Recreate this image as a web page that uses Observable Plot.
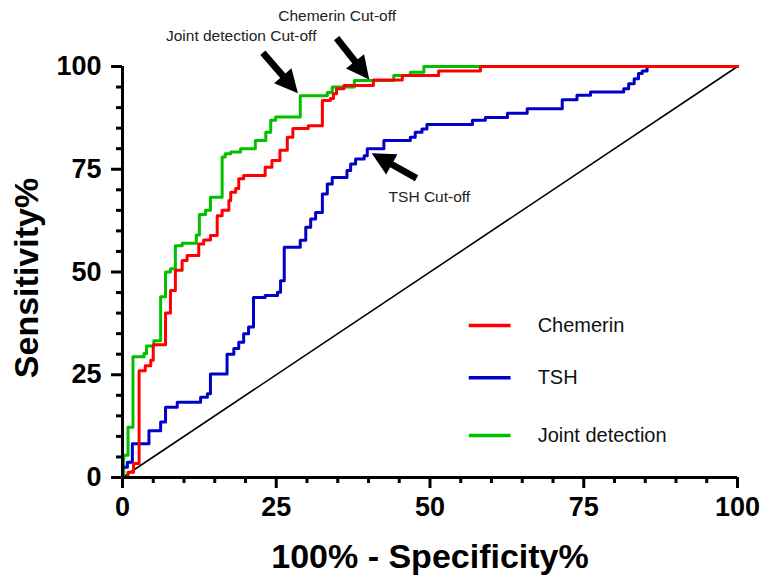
<!DOCTYPE html>
<html>
<head>
<meta charset="utf-8">
<script src="https://cdn.jsdelivr.net/npm/d3@7"></script>
<script src="https://cdn.jsdelivr.net/npm/@observablehq/plot@0.6"></script>
<style>
  html, body { margin: 0; padding: 0; background: #fff; }
  #chart svg { display: block; }
</style>
</head>
<body>
<div id="chart"></div>
<script>
// ---- Data ----
const chemX = [0,0.9,1.8,2.7,3.7,4.6,5.0,7.0,7.8,8.6,9.7,10.5,12.4,13.2,14.3,15.4,16.2,17.3,17.6,18.4,18.9,19.7,23.2,24.3,25.6,26.8,27.7,30.2,32.5,33.8,34.3,34.8,36.0,40.8,45.5,51.4,58.2,100];
const chemY = [0,1.3,3.4,26,27.2,28.5,32.3,40,45.5,50.4,52.8,54,56.8,57.8,58.9,63.7,65,67.4,69.4,70.3,72.7,73.5,75.5,77.1,79.6,82.8,84.9,85.6,91.7,92.2,93.4,94.6,95.4,96.7,97.8,98.9,100,100];

const tshX = [0,0,0.8,1.6,4.3,6.2,7.0,8.9,12.7,13.8,14.3,17.0,18.1,18.9,19.7,20.5,21.3,23.2,25.2,25.7,26.3,28.9,29.8,30.6,31.4,32.5,33.3,34.1,36.5,37.1,37.9,39.3,39.8,42.5,46.8,47.6,48.7,49.5,56.9,59.0,62.6,65.8,71.5,73.9,76.1,81.5,82.3,83.2,83.9,84.5,85.3,100];
const tshY = [0,2.5,3.7,8.2,11.4,13.5,17.1,18.3,19.5,20.4,25.2,30,31.4,32.9,35,36.6,43.8,44.3,45.1,47.9,56,57.7,60.9,62.9,64.5,69,71.4,73,74.7,76.3,77.5,78.3,80,82,82.8,84,84.8,85.9,86.9,87.6,88.6,89.7,91.9,93,93.8,94.6,95.8,97,98.3,98.9,100,100];

const jointX = [0,0.2,0.9,1.7,3.5,3.9,5.1,6.2,7.0,7.8,8.6,9.7,12.0,12.5,13.5,14.3,16.2,16.7,17.6,19.2,21.6,23.3,24.1,24.9,28.9,33.3,34.1,37.7,44.1,46.8,49.0,100];
const jointY = [0,5.4,12.2,29.4,30.2,32,33.3,44,50,50.8,56.4,57,59,64,65,68.2,78,78.8,79.2,80,82,84,86.9,87.7,92.9,93.7,95,96.6,97.8,98.6,100,100];

const diagX = [0, 100];
const diagY = [0, 100];

const majorTicks = [0, 25, 50, 75, 100];
const minorTicks = [5,10,15,20,30,35,40,45,55,60,65,70,80,85,90,95];

const legendLabels = ["Chemerin", "TSH", "Joint detection"];
const legendColors = ["#ff0000", "#0000c8", "#00c000"];
const legendY = [37, 24.3, 10.2];
const legendX1 = 56.3, legendX2 = 63.1, legendTextX = 67.5;

const annoText = ["Joint detection Cut-off", "Chemerin Cut-off", "TSH Cut-off"];
const annoX = [19.3, 34.9, 49.9];
const annoY = [107.5, 112.4, 68.2];
const arrowX1 = [22.9, 34.9, 47.9];
const arrowY1 = [103.2, 106.8, 72.7];
const arrowX2 = [28.6, 40.2, 40.6];
const arrowY2 = [93.4, 96.7, 78.8];

// ---- Build tables ----
const zip = (xs, ys) => xs.map((x, i) => ({x, y: ys[i]}));
const chem = zip(chemX, chemY);
const tsh = zip(tshX, tshY);
const joint = zip(jointX, jointY);
const diag = zip(diagX, diagY);
const legend = legendLabels.map((label, i) => ({label, color: legendColors[i], y: legendY[i]}));
const annos = annoText.map((t, i) => ({t, x: annoX[i], y: annoY[i]}));
const arrows = arrowX1.map((x1, i) => ({x1, y1: arrowY1[i], x2: arrowX2[i], y2: arrowY2[i]}));

const FONT = "'Liberation Sans', Arial, Helvetica, sans-serif";

// custom filled arrows, positioned through the plot's scales
function arrowMark(index, scales) {
  const g = d3.create("svg:g");
  const H = 23, W = 11.5, S = 3.4;
  for (const a of arrows) {
    const tx = scales.x(a.x1), ty = scales.y(a.y1);
    const hx = scales.x(a.x2), hy = scales.y(a.y2);
    const L = Math.hypot(hx - tx, hy - ty);
    const ux = (hx - tx) / L, uy = (hy - ty) / L;
    const nx = -uy, ny = ux;
    const bx = hx - ux * H, by = hy - uy * H;
    const pts = [
      [tx + nx * S, ty + ny * S],
      [bx + nx * S, by + ny * S],
      [bx + nx * W, by + ny * W],
      [hx, hy],
      [bx - nx * W, by - ny * W],
      [bx - nx * S, by - ny * S],
      [tx - nx * S, ty - ny * S]
    ];
    g.append("polygon")
      .attr("points", pts.map(p => p.join(",")).join(" "))
      .attr("fill", "#000");
  }
  return g.node();
}

const chart = Plot.plot({
  width: 761,
  height: 583,
  marginLeft: 122,
  marginRight: 24,
  marginTop: 66,
  marginBottom: 106,
  style: {fontFamily: FONT, fontWeight: "bold", background: "#fff", overflow: "visible"},
  x: {domain: [0, 100], nice: false},
  y: {domain: [0, 100], nice: false},
  marks: [
    // minor ticks
    Plot.axisX(minorTicks, {tickSize: 6, strokeWidth: 3, tickFormat: () => "", label: null}),
    Plot.axisY(minorTicks, {tickSize: 6, strokeWidth: 3, tickFormat: () => "", label: null}),
    // major ticks + labels
    Plot.axisX(majorTicks, {tickSize: 11, tickPadding: 8, strokeWidth: 3, fontSize: 27, fontWeight: "bold", fill: "#000", tickFormat: d => String(d), label: null}),
    Plot.axisY(majorTicks, {tickSize: 11, tickPadding: 10, strokeWidth: 3, fontSize: 27, fontWeight: "bold", fill: "#000", tickFormat: d => String(d), label: null}),
    // reference diagonal
    Plot.line(diag, {x: "x", y: "y", stroke: "#000", strokeWidth: 1.6}),
    // ROC curves
    Plot.line(joint, {x: "x", y: "y", curve: "step-after", stroke: legendColors[2], strokeWidth: 3}),
    Plot.line(tsh, {x: "x", y: "y", curve: "step-after", stroke: legendColors[1], strokeWidth: 3}),
    Plot.line(chem, {x: "x", y: "y", curve: "step-after", stroke: legendColors[0], strokeWidth: 3}),
    // axis lines
    Plot.ruleX([0], {stroke: "#000", strokeWidth: 3}),
    Plot.ruleY([0], {stroke: "#000", strokeWidth: 3}),
    // legend
    Plot.link(legend, {x1: () => legendX1, x2: () => legendX2, y1: "y", y2: "y", stroke: "color", strokeWidth: 3.5}),
    Plot.text(legend, {x: () => legendTextX, y: "y", text: "label", textAnchor: "start", fontSize: 20, fontWeight: "normal", fill: "#111"}),
    // annotations
    arrowMark,
    Plot.text(annos, {x: "x", y: "y", text: "t", fontSize: 15.5, fontWeight: "normal", fill: "#222"}),
    // axis titles
    Plot.text(["100% - Specificity%"], {frameAnchor: "bottom", dy: 80, lineAnchor: "middle", textAnchor: "middle", fontSize: 34, fontWeight: "bold", fill: "#000"}),
    Plot.text(["Sensitivity%"], {frameAnchor: "left", dx: -95, dy: 6, rotate: -90, textAnchor: "middle", lineAnchor: "middle", fontSize: 34, fontWeight: "bold", fill: "#000"})
  ]
});

document.getElementById("chart").appendChild(chart);
</script>
</body>
</html>
